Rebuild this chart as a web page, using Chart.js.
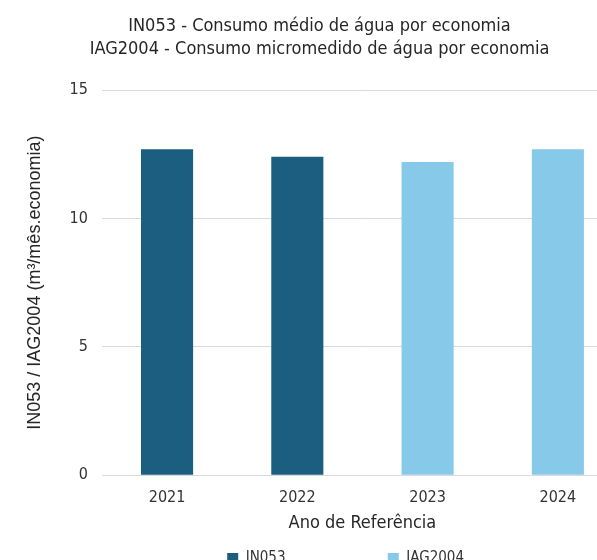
<!DOCTYPE html>
<html>
<head>
<meta charset="utf-8">
<script src="https://cdn.jsdelivr.net/npm/chart.js@4.4.1/dist/chart.umd.min.js"></script>
<style>
body { margin: 0; overflow: hidden; background: #fff; }
</style>
</head>
<body>
<canvas id="chart1" width="640" height="600"></canvas>
<script>
// data
var years = ['2021', '2022', '2023', '2024'];
var in053Values = [12.7, 12.4, null, null];
var iag2004Values = [null, null, 12.2, 12.7];
var yTicks = [0, 5, 10, 15];
var titleLines = [
    'IN053 - Consumo médio de água por economia',
    'IAG2004 - Consumo micromedido de água por economia'
];
var yTitle = 'IN053 / IAG2004 (m³/mês.economia)';
var xTitle = 'Ano de Referência';

var narrow = "'Liberation Sans Narrow', 'DejaVu Sans Condensed', sans-serif";
// trailing spaces so the two legend entries sit apart like the original
var legendPad = ['\u2002'.repeat(12) + ' ', '\u2002'.repeat(5)];

var ctx = document.getElementById('chart1').getContext('2d');
var chart1 = new Chart(ctx, {
    type: 'bar',
    data: {
        labels: years,
        datasets: [{
            label: 'IN053',
            data: in053Values,
            backgroundColor: '#1b5e80',
            skipNull: true
        }, {
            label: 'IAG2004',
            data: iag2004Values,
            backgroundColor: '#86c9e9',
            skipNull: true
        }]
    },
    options: {
        responsive: false,
        animation: false,
        devicePixelRatio: 1,
        layout: { padding: { left: 16, right: 17, top: 0, bottom: 24 } },
        datasets: { bar: { categoryPercentage: 1, barPercentage: 0.4 } },
        scales: {
            x: {
                grid: { display: false },
                border: { display: false },
                ticks: { color: '#333', font: { family: narrow, size: 16 }, padding: 5 },
                title: { display: true, text: xTitle, color: '#262626', font: { family: narrow, size: 18 }, padding: { top: 0, bottom: 0 } }
            },
            y: {
                min: 0,
                max: 15,
                afterBuildTicks: function(axis) {
                    axis.ticks = yTicks.map(function(v) { return { value: v }; });
                },
                grid: { color: '#d9d9d9', drawTicks: false },
                border: { display: false },
                ticks: { color: '#333', font: { family: narrow, size: 16 }, padding: 14 },
                title: { display: true, text: yTitle, color: '#262626', font: { family: 'Liberation Sans', size: 18 }, padding: { top: 8, bottom: 10 } }
            }
        },
        plugins: {
            title: {
                display: true,
                text: titleLines,
                color: '#262626',
                font: { family: narrow, size: 18, weight: 'normal', lineHeight: 1.28 },
                padding: { top: 15, bottom: 29 }
            },
            legend: {
                position: 'bottom',
                fullSize: false,
                labels: {
                    color: '#333',
                    boxWidth: 11,
                    boxHeight: 11,
                    font: { family: narrow, size: 15 },
                    padding: 17,
                    generateLabels: function(chart) {
                        var items = Chart.defaults.plugins.legend.labels.generateLabels(chart);
                        for (var i = 0; i < items.length; i++) {
                            items[i].text = items[i].text + legendPad[i];
                        }
                        return items;
                    }
                }
            },
            tooltip: { enabled: false }
        }
    }
});
</script>
</body>
</html>
